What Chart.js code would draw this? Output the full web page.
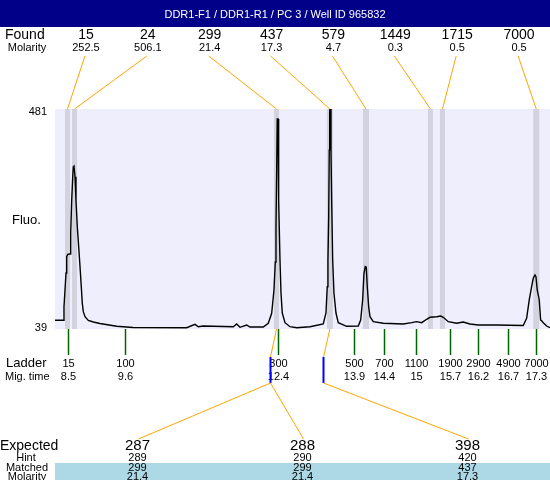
<!DOCTYPE html>
<html>
<head>
<meta charset="utf-8">
<script src="https://cdn.jsdelivr.net/npm/chart.js@4"></script>
<style>
  body { margin: 0; background: #fff; }
  #wrap { width: 550px; height: 480px; }
</style>
</head>
<body>
<div id="wrap"><canvas id="grafico" width="550" height="480"></canvas></div>
<script>
const titulo = "DDR1-F1 / DDR1-R1 / PC 3 / Well ID 965832";

// electropherogram trace: migration time (s) and fluorescence
const traceTime = [8.25, 8.406, 8.419, 8.438, 8.457, 8.470, 8.489, 8.532, 8.545, 8.564, 8.583, 8.594, 8.607, 8.626, 8.644, 8.669, 8.695, 8.720, 8.744, 8.763, 8.782, 8.814, 8.876, 8.970, 9.095, 9.409, 9.715, 10.724, 10.880, 10.942, 11.036, 11.600, 11.663, 11.725, 11.851, 11.913, 12.163, 12.257, 12.321, 12.364, 12.389, 12.402, 12.415, 12.425, 12.440, 12.446, 12.458, 12.477, 12.496, 12.520, 12.571, 12.665, 12.791, 13.040, 13.290, 13.341, 13.365, 13.378, 13.392, 13.403, 13.411, 13.429, 13.435, 13.448, 13.467, 13.491, 13.529, 13.572, 13.730, 13.948, 13.993, 14.030, 14.055, 14.079, 14.098, 14.117, 14.143, 14.168, 14.230, 14.418, 14.793, 14.951, 15.045, 15.139, 15.233, 15.295, 15.421, 15.496, 15.545, 15.639, 15.796, 15.920, 16.046, 16.202, 16.548, 17.047, 17.111, 17.160, 17.205, 17.235, 17.267, 17.286, 17.310, 17.348, 17.374, 17.393, 17.423, 17.487, 17.55];
const traceFluo = [56.5, 56.5, 83.8, 117.4, 151.5, 184.3, 189.1, 189.7, 231.9, 298.2, 345.0, 365.1, 366.5, 345.0, 298.2, 244.5, 204.3, 164.2, 124.0, 90.6, 73.8, 63.7, 56.1, 53.1, 50.0, 44.4, 42.0, 41.6, 48.4, 43.6, 45.0, 43.6, 49.0, 42.4, 47.0, 43.0, 43.0, 50.5, 70.5, 117.4, 173.6, 244.5, 358.4, 460.9, 460.9, 398.6, 298.2, 177.6, 111.3, 71.1, 51.7, 43.6, 41.6, 43.6, 49.0, 71.1, 124.0, 177.6, 264.6, 398.6, 481, 481, 398.6, 298.2, 177.6, 111.3, 71.1, 51.7, 44.4, 45.0, 57.1, 97.3, 150.9, 164.2, 163.0, 124.0, 83.8, 63.7, 53.7, 50.5, 49.0, 51.7, 53.7, 51.7, 58.5, 62.5, 63.7, 65.1, 62.5, 53.7, 50.5, 53.1, 49.0, 47.0, 47.0, 46.0, 60.5, 97.3, 124.0, 140.9, 147.5, 144.1, 117.4, 97.3, 57.1, 55.7, 51.7, 45.0, 41.6];

// found peaks
const foundSize = ["15", "24", "299", "437", "579", "1449", "1715", "7000"];
const foundMolarity = ["252.5", "506.1", "21.4", "17.3", "4.7", "0.3", "0.5", "0.5"];
const peakStart = [8.438, 8.570, 12.364, 13.358, 14.036, 15.257, 15.483, 17.236];
const peakEnd = [8.532, 8.664, 12.458, 13.471, 14.149, 15.351, 15.577, 17.349];

// ladder
const ladderSize = ["15", "100", "300", "500", "700", "1100", "1900", "2900", "4900", "7000"];
const ladderTime = [8.494, 9.565, 12.44, 13.87, 14.43, 15.03, 15.67, 16.20, 16.76, 17.29];
const ladderMig = ["8.5", "9.6", "12.4", "13.9", "14.4", "15", "15.7", "16.2", "16.7", "17.3"];

// expected table
const expected = ["287", "288", "398"];
const hint = ["289", "290", "420"];
const matched = ["299", "299", "437"];
const matchedMolarity = ["21.4", "21.4", "17.3"];
const matchedPeak = [2, 2, 3];

const yMin = 39, yMax = 481;
const fonte = "'Liberation Sans', Arial, sans-serif";

const pontos = traceTime.map((t, i) => ({ x: t, y: traceFluo[i] }));

const desenho = {
    id: "desenho",
    beforeDraw(chart) {
        const c = chart.ctx;
        const a = chart.chartArea;
        const xs = chart.scales.x;
        c.save();
        c.fillStyle = "#ffffff";
        c.fillRect(0, 0, chart.width, chart.height);
        // plot background
        c.fillStyle = "#eeeefc";
        c.fillRect(a.left, a.top, a.right - a.left, a.bottom - a.top);
        // peak bands
        c.fillStyle = "#d3d3e0";
        for (let i = 0; i < peakStart.length; i++) {
            const x1 = xs.getPixelForValue(peakStart[i]);
            const x2 = xs.getPixelForValue(peakEnd[i]);
            c.fillRect(x1, a.top, x2 - x1, a.bottom - a.top);
        }
        c.restore();
    },
    afterDraw(chart) {
        const c = chart.ctx;
        const a = chart.chartArea;
        const xs = chart.scales.x;
        const w = a.right - a.left;
        c.save();

        // title bar
        c.fillStyle = "#000088";
        c.fillRect(0, 0, chart.width, 27);
        c.fillStyle = "#ffffff";
        c.font = "11px " + fonte;
        c.textAlign = "center";
        c.textBaseline = "middle";
        c.fillText(titulo, chart.width / 2, 15);

        // found row
        c.fillStyle = "#000";
        c.textAlign = "left";
        c.font = "14px " + fonte;
        c.fillText("Found", 5, 35);
        c.textAlign = "center";
        c.font = "11px " + fonte;
        c.fillText("Molarity", 27, 48);
        const colW = w / foundSize.length;
        for (let i = 0; i < foundSize.length; i++) {
            const cx = a.left + (i + 0.5) * colW;
            c.font = "14px " + fonte;
            c.fillText(foundSize[i], cx, 35);
            c.font = "11px " + fonte;
            c.fillText(foundMolarity[i], cx, 48);
            const px = (xs.getPixelForValue(peakStart[i]) + xs.getPixelForValue(peakEnd[i])) / 2;
            c.strokeStyle = "#ffa500";
            c.lineWidth = 1;
            c.beginPath();
            c.moveTo(cx - 1, 56);
            c.lineTo(px, a.top);
            c.stroke();
        }

        // y labels
        c.font = "11px " + fonte;
        c.textAlign = "right";
        c.fillText(String(yMax), 47, a.top + 3);
        c.fillText(String(yMin), 47, a.bottom - 1);
        c.textAlign = "left";
        c.font = "13px " + fonte;
        c.fillText("Fluo.", 12, 220);

        // ladder
        c.font = "13px " + fonte;
        c.fillText("Ladder", 6, 363);
        c.font = "11px " + fonte;
        c.fillText("Mig. time", 5, 377);
        c.textAlign = "center";
        for (let i = 0; i < ladderTime.length; i++) {
            const lx = Math.round(xs.getPixelForValue(ladderTime[i])) + 0.5;
            c.strokeStyle = "#006400";
            c.lineWidth = 1.5;
            c.beginPath();
            c.moveTo(lx, a.bottom);
            c.lineTo(lx, 355);
            c.stroke();
            c.fillStyle = "#000";
            c.font = "11px " + fonte;
            c.fillText(ladderSize[i], lx, 364);
            c.fillText(ladderMig[i], lx, 377);
        }

        // matched peaks -> ladder row -> expected
        const blueX = [];
        [2, 3].forEach(p => {
            const px = (xs.getPixelForValue(peakStart[p]) + xs.getPixelForValue(peakEnd[p])) / 2;
            const bx = Math.round(px - 6.5) + 0.5;
            blueX[p] = bx;
            c.strokeStyle = "#ffa500";
            c.lineWidth = 1;
            c.beginPath();
            c.moveTo(px, a.bottom);
            c.lineTo(bx, 357);
            c.stroke();
            c.strokeStyle = "#0000ff";
            c.lineWidth = 2;
            c.beginPath();
            c.moveTo(bx, 357);
            c.lineTo(bx, 383);
            c.stroke();
        });

        const expW = w / expected.length;
        // light blue rows
        c.fillStyle = "#add8e6";
        c.fillRect(a.left, 463, w, chart.height - 463);
        for (let i = 0; i < expected.length; i++) {
            const cx = a.left + (i + 0.5) * expW;
            c.strokeStyle = "#ffa500";
            c.lineWidth = 1;
            c.beginPath();
            c.moveTo(blueX[matchedPeak[i]], 383);
            c.lineTo(cx + 1, 439);
            c.stroke();
            c.fillStyle = "#000";
            c.font = "15px " + fonte;
            c.fillText(expected[i], cx, 446);
            c.font = "11px " + fonte;
            c.fillText(hint[i], cx, 458);
            c.fillText(matched[i], cx, 468);
            c.fillText(matchedMolarity[i], cx, 477);
        }
        c.fillStyle = "#000";
        c.textAlign = "left";
        c.font = "14px " + fonte;
        c.fillText("Expected", 0, 446);
        c.textAlign = "center";
        c.font = "11px " + fonte;
        c.fillText("Hint", 26, 458);
        c.fillText("Matched", 27, 468);
        c.fillText("Molarity", 27, 477);
        c.restore();
    }
};

new Chart(document.getElementById("grafico"), {
    type: "line",
    data: {
        datasets: [{
            label: "Fluo.",
            data: pontos,
            borderColor: "#000000",
            borderWidth: 1.4,
            pointRadius: 0,
            tension: 0,
            fill: false
        }]
    },
    options: {
        responsive: false,
        animation: false,
        layout: { padding: { top: 109, left: 55, right: 0, bottom: 151 } },
        plugins: { legend: { display: false }, tooltip: { enabled: false } },
        scales: {
            x: { type: "linear", min: 8.25, max: 17.55, display: false },
            y: { min: yMin, max: yMax, display: false }
        }
    },
    plugins: [desenho]
});
</script>
</body>
</html>
